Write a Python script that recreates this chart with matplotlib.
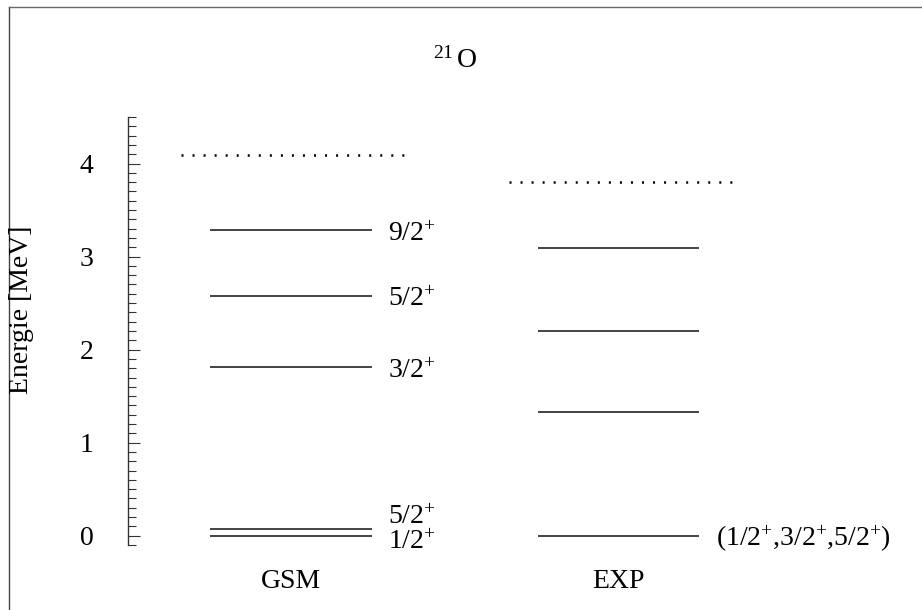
import matplotlib
matplotlib.use("Agg")
import matplotlib.pyplot as plt
from matplotlib.lines import Line2D
from matplotlib.ticker import MultipleLocator

plt.rcParams['font.family'] = ['Liberation Serif', 'DejaVu Serif']
plt.rcParams['mathtext.fontset'] = 'custom'
plt.rcParams['mathtext.rm'] = 'Liberation Serif'
plt.rcParams['mathtext.it'] = 'Liberation Serif:italic'
plt.rcParams['mathtext.bf'] = 'Liberation Serif:bold'

# ---- data ----
columns = ["GSM", "EXP"]
gsm_levels = [0.0, 0.07, 1.81, 2.58, 3.29]
gsm_labels = ["1/2$^{+}$", "5/2$^{+}$", "3/2$^{+}$", "5/2$^{+}$", "9/2$^{+}$"]
gsm_threshold = 4.09
exp_levels = [0.0, 1.33, 2.20, 3.09]
exp_labels = ["(1/2$^{+}$,3/2$^{+}$,5/2$^{+}$)", "", "", ""]
exp_threshold = 3.80
yticks = [0, 1, 2, 3, 4]
title = "$^{21}\\,$O"
ylabel = "Energie [MeV]"

# ---- layout ----
W, H = 922, 610
fig = plt.figure(figsize=(W / 100, H / 100), dpi=100)
ax_left, ax_right, ax_bottom, ax_top = 128, 922, 545, 117
ax = fig.add_axes([ax_left / W, 1 - ax_bottom / H,
                   (ax_right - ax_left) / W, (ax_bottom - ax_top) / H])
ax.set_xlim(0.502, 2.927)
ax.set_ylim(-0.1, 4.5)

centers = [1, 2]
half = 0.247
dot_l, dot_r = 0.335, 0.35
lab_dx = 0.297
# label vertical offsets (layout) for crowded levels
gsm_lab_dy = [-0.07, 0.13, -0.04, -0.04, -0.05]
exp_lab_dy = [-0.04, 0, 0, 0]

fs = 20
dot_lw = 1.8
dot_on = 0.8
dot_style = (0, (dot_on, 7.95 / dot_lw - dot_on))

for c, levels, labels, dys, thr in [
        (centers[0], gsm_levels, gsm_labels, gsm_lab_dy, gsm_threshold),
        (centers[1], exp_levels, exp_labels, exp_lab_dy, exp_threshold)]:
    for e, lab, dy in zip(levels, labels, dys):
        ax.plot([c - half, c + half], [e, e], color='#111111', lw=1.1,
                solid_capstyle='butt')
        if lab:
            ax.text(c + lab_dx, e + dy, lab, fontsize=fs, ha='left',
                    va='center', clip_on=False)
    ax.plot([c - dot_l, c + dot_r], [thr, thr], color='black', lw=dot_lw,
            linestyle=dot_style, dash_capstyle='butt')

for c, name in zip(centers, columns):
    ax.text(c, -0.487, name, fontsize=fs, ha='center', va='center',
            clip_on=False)

for s in ['top', 'right', 'bottom']:
    ax.spines[s].set_visible(False)
ax.spines['left'].set_linewidth(1.0)
ax.spines['left'].set_color('#333333')
ax.set_xticks([])
ax.set_yticks(yticks)
ax.yaxis.set_minor_locator(MultipleLocator(0.1))
ax.tick_params(axis='y', which='major', direction='in', length=8.6,
               width=0.8, pad=25, labelsize=fs, color='#333333')
ax.tick_params(axis='y', which='minor', direction='in', length=5.8,
               width=0.8, color='#333333')

fig.text(455 / W, 1 - 60 / H, title, fontsize=fs, ha='center', va='center')
fig.text(22 / W, 1 - 310 / H, ylabel, fontsize=fs, ha='center',
         va='center', rotation=90)

# figure frame (left and top)
fig.add_artist(Line2D([9 / W, 9 / W], [0, 1 - 7 / H], transform=fig.transFigure,
                      color='#444444', lw=1.0))
fig.add_artist(Line2D([9 / W, 1], [1 - 7 / H, 1 - 7 / H], transform=fig.transFigure,
                      color='#666666', lw=1.0))

fig.savefig("out.png", dpi=100)
